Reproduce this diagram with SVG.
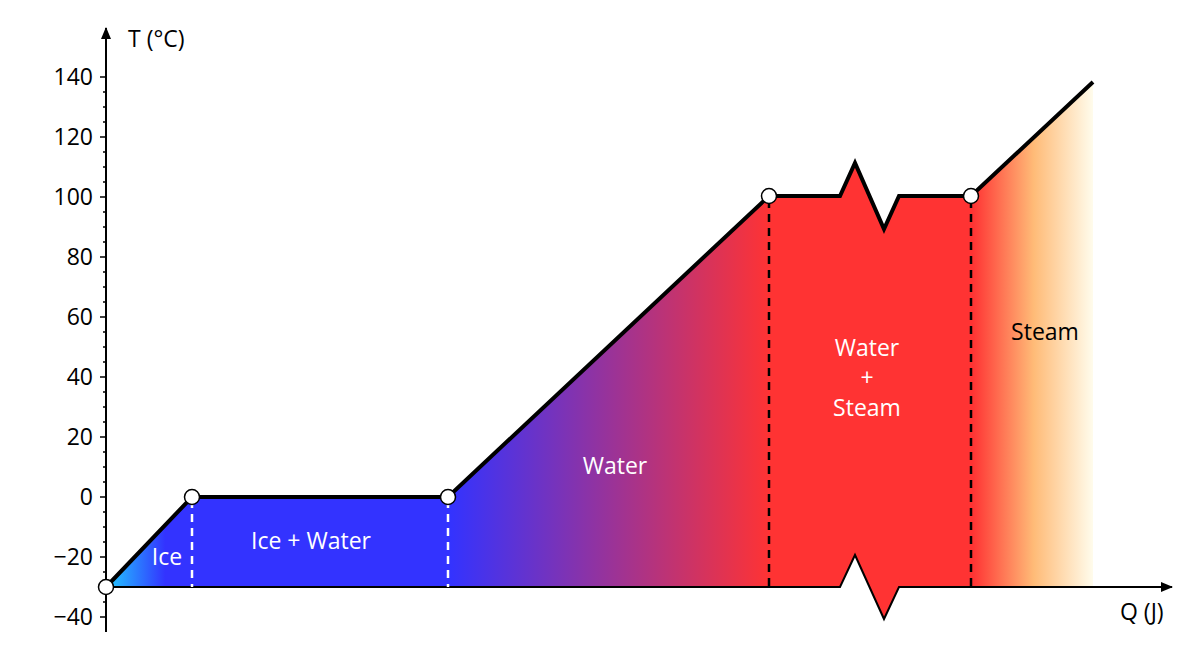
<svg xmlns="http://www.w3.org/2000/svg" width="1200" height="661" viewBox="0 0 1200 661">
<style>
text{font-family:"Open Sans","Noto Sans",sans-serif;font-size:23px}
.tl{text-anchor:end;fill:#000}
.w{fill:#fff;text-anchor:middle}
.axis{stroke:#000;stroke-width:2;fill:none}
.pt{fill:#fff;stroke:#000;stroke-width:1.5}
</style>
<defs>
<linearGradient id="g" gradientUnits="userSpaceOnUse" x1="106" y1="0" x2="1093" y2="0">
<stop offset="0" stop-color="#22ccff"/>
<stop offset="0.06" stop-color="#3333ff"/>
<stop offset="0.348" stop-color="#3333ff"/>
<stop offset="0.673" stop-color="#ff3333"/>
<stop offset="0.878" stop-color="#ff3333"/>
<stop offset="0.94" stop-color="#ffbb77"/>
<stop offset="1" stop-color="#fffcec"/>
</linearGradient>
<marker id="ar" viewBox="0 0 12 10" refX="11" refY="5" markerWidth="12" markerHeight="10" markerUnits="userSpaceOnUse" orient="auto"><path d="M0,0L12,5L0,10Z" fill="#000"/></marker>
</defs>
<g id="fill"><path d="M106,587L192,497L448,497L769,196L840,196L855,163L884,229L899,196L971,196L1093,82L1093,587L899,587L884,619L855,555L840,587Z" fill="url(#g)"/></g>
<g id="axes">
<path class="axis" d="M106,632V28" marker-end="url(#ar)" stroke-width="1.5"/>
<path class="axis" d="M106,587H840L855,555L884,619L899,587H1172" marker-end="url(#ar)" stroke-width="1.5"/>
<path stroke="#000" stroke-width="1.3" d="M100,77H106M100,137H106M100,197H106M100,257H106M100,317H106M100,377H106M100,437H106M100,497H106M100,557H106M100,617H106
M103,92H106M103,107H106M103,122H106M103,152H106M103,167H106M103,182H106M103,212H106M103,227H106M103,242H106M103,272H106M103,287H106M103,302H106M103,332H106M103,347H106M103,362H106M103,392H106M103,407H106M103,422H106M103,452H106M103,467H106M103,482H106M103,512H106M103,527H106M103,542H106M103,572H106M103,587H106M103,602H106"/>
<text class="tl" x="93" y="85">140</text>
<text class="tl" x="93" y="145">120</text>
<text class="tl" x="93" y="205">100</text>
<text class="tl" x="93" y="265">80</text>
<text class="tl" x="93" y="325">60</text>
<text class="tl" x="93" y="385">40</text>
<text class="tl" x="93" y="445">20</text>
<text class="tl" x="93" y="505">0</text>
<text class="tl" x="93" y="565">−20</text>
<text class="tl" x="93" y="625">−40</text>
<text x="128" y="47">T (°C)</text>
<text x="1120" y="620">Q (J)</text>
</g>
<g id="connectors" stroke-width="2.5" stroke-dasharray="8,6">
<path d="M192,500V587M448,500V587" stroke="#fff"/>
<path d="M769,200V587M971,200V587" stroke="#000"/>
</g>
<path id="curve" d="M106,587L192,497L448,497L769,196L840,196L855,163L884,229L899,196L971,196L1093,82" fill="none" stroke="#000" stroke-width="4" stroke-linejoin="miter"/>
<g id="points">
<circle class="pt" cx="106" cy="587" r="7.5"/>
<circle class="pt" cx="192" cy="497" r="7.5"/>
<circle class="pt" cx="448" cy="497" r="7.5"/>
<circle class="pt" cx="769" cy="196" r="7.5"/>
<circle class="pt" cx="971" cy="196" r="7.5"/>
</g>
<g id="labels">
<text class="w" x="167" y="565">Ice</text>
<text class="w" x="311" y="549">Ice + Water</text>
<text class="w" x="615" y="474">Water</text>
<text class="w" x="867" y="356">Water</text>
<text class="w" x="867" y="386">+</text>
<text class="w" x="867" y="416">Steam</text>
<text x="1045" y="340" text-anchor="middle">Steam</text>
</g>
</svg>
